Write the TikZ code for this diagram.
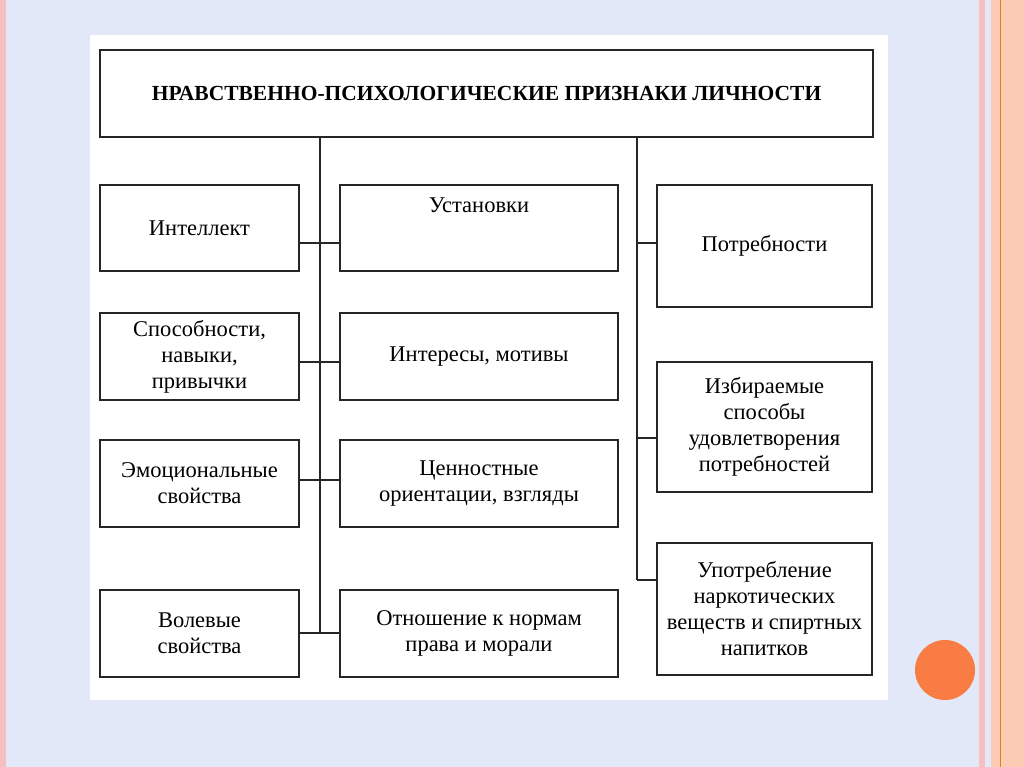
\documentclass[tikz,border=0pt]{standalone}
\usepackage{fontspec}
\setmainfont{Liberation Serif}
\definecolor{bgc}{HTML}{E2E8F7}
\definecolor{pinkc}{HTML}{F7BFBF}
\definecolor{peach}{HTML}{FCCBB3}
\definecolor{orng}{HTML}{F97C45}
\begin{document}
\begin{tikzpicture}[x=1pt,y=-1pt,
 bx/.style={draw=black!85,line width=1.6pt,fill=white,align=center,font=\fontsize{22.5}{26}\selectfont,inner sep=0pt},
 ln/.style={line width=1.4pt,black!85}]
\useasboundingbox (0,0) rectangle (1024,767);
\fill[bgc] (0,0) rectangle (1024,767);
\fill[pinkc] (0,0) rectangle (6,767);
\fill[pinkc] (979,0) rectangle (985,767);
\fill[peach] (991,0) rectangle (1024,767);
\draw[orange!60!brown,line width=0.8pt] (1000,0) -- (1000,767);
\fill[white] (90,35) rectangle (888,700);
\fill[orng] (945,670) circle (30);
\newcommand\bxat[6]{\node[bx,minimum width=#4-#2,minimum height=#5-#3] (#1) at ({(#2+#4)/2},{(#3+#5)/2}) {#6};}
\bxat{t}{100}{50}{873}{137}{\textbf{\fontsize{21.5}{25}\selectfont НРАВСТВЕННО-ПСИХОЛОГИЧЕСКИЕ ПРИЗНАКИ ЛИЧНОСТИ}}
\bxat{a1}{100}{185}{299}{271}{Интеллект}
\bxat{a2}{100}{313}{299}{400}{Способности,\\навыки,\\привычки}
\bxat{a3}{100}{440}{299}{527}{Эмоциональные\\свойства}
\bxat{a4}{100}{590}{299}{677}{Волевые\\свойства}
\bxat{b1}{340}{185}{618}{271}{Установки\\[20pt]}
\bxat{b2}{340}{313}{618}{400}{Интересы, мотивы}
\bxat{b3}{340}{440}{618}{527}{Ценностные\\ориентации, взгляды}
\bxat{b4}{340}{590}{618}{677}{Отношение к нормам\\права и морали}
\bxat{c1}{657}{185}{872}{307}{Потребности}
\bxat{c2}{657}{362}{872}{492}{Избираемые\\способы\\удовлетворения\\потребностей}
\bxat{c3}{657}{543}{872}{675}{Употребление\\наркотических\\веществ и спиртных\\напитков}
\coordinate (L) at (320,137);
\coordinate (R) at (637,137);
\draw[ln] (L) -- (320,633);
\draw[ln] (R) -- (637,580);
\foreach \y in {243,362,480,633}{\draw[ln] (299,\y) -- (340,\y);}
\foreach \y in {243,438,580}{\draw[ln] (637,\y) -- (657,\y);}
\end{tikzpicture}
\end{document}
